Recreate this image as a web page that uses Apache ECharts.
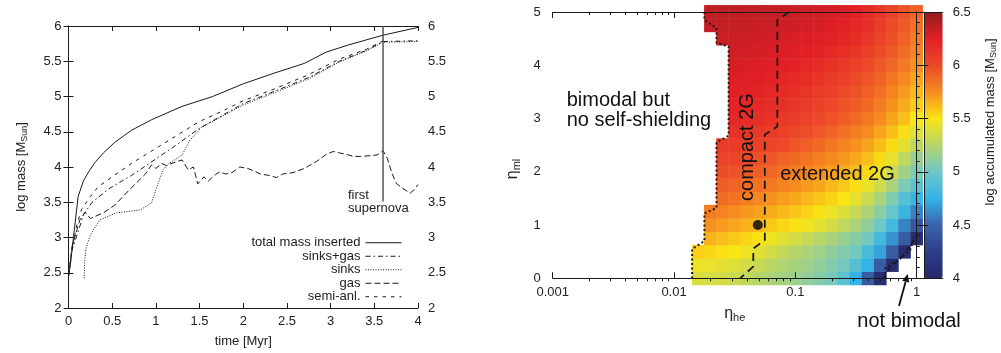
<!DOCTYPE html>
<html>
<head>
<meta charset="utf-8">
<script src="https://cdn.jsdelivr.net/npm/echarts@6/dist/echarts.min.js"></script>
<style>
html, body { margin: 0; padding: 0; background: #fff; }
#main { width: 1001px; height: 353px; }
</style>
</head>
<body>
<div id="main"></div>
<script>
// left panel: log mass vs time
var totalT = [0, 0.02, 0.11, 0.17, 0.23, 0.3, 0.4, 0.53, 0.72, 0.95, 1.3, 1.65, 2.0, 2.35, 2.7, 2.95, 3.2, 3.6, 4.0];
var totalM = [2.45, 2.6, 3.58, 3.8, 3.93, 4.06, 4.2, 4.35, 4.52, 4.67, 4.86, 5.0, 5.18, 5.33, 5.47, 5.63, 5.73, 5.87, 5.98];

var sinksGasT = [0, 0.04, 0.11, 0.17, 0.27, 0.46, 0.72, 0.84, 1.22, 1.5, 2.0, 2.35, 2.75, 3.1, 3.4, 3.6, 4.0];
var sinksGasM = [2.45, 2.82, 3.08, 3.32, 3.5, 3.69, 3.88, 3.98, 4.3, 4.55, 4.9, 5.07, 5.27, 5.5, 5.65, 5.78, 5.79];

var sinksT = [0.18, 0.185, 0.2, 0.24, 0.28, 0.36, 0.55, 0.82, 0.95, 1.02, 1.08, 1.15, 1.3, 1.39, 1.52, 2.0, 2.35, 2.75, 3.1, 3.4, 3.6, 4.0];
var sinksM = [2.42, 2.65, 2.85, 3.0, 3.1, 3.25, 3.35, 3.39, 3.49, 3.75, 3.96, 4.05, 4.17, 4.38, 4.56, 4.88, 5.05, 5.25, 5.49, 5.64, 5.77, 5.78];

var gasT = [0, 0.04, 0.13, 0.19, 0.25, 0.4, 0.53, 0.7, 0.88, 0.95, 1.0, 1.07, 1.12, 1.2, 1.3, 1.37, 1.43, 1.48, 1.55, 1.6, 1.68, 1.73, 1.8, 1.87, 1.96, 2.05, 2.11, 2.2, 2.3, 2.38, 2.45, 2.57, 2.7, 2.84, 2.95, 3.03, 3.1, 3.18, 3.26, 3.34, 3.45, 3.53, 3.6, 3.65, 3.7, 3.75, 3.82, 3.91, 3.96, 4.0];
var gasM = [2.45, 2.87, 3.25, 3.36, 3.27, 3.35, 3.46, 3.68, 3.9, 4.03, 3.98, 4.05, 4.02, 4.06, 4.1, 3.96, 4.0, 3.76, 3.86, 3.8, 3.89, 3.93, 3.9, 3.92, 4.0, 3.98, 3.95, 3.9, 3.88, 3.85, 3.9, 3.92, 3.98, 4.08, 4.18, 4.22, 4.2, 4.18, 4.15, 4.15, 4.16, 4.17, 4.23, 4.12, 3.92, 3.77, 3.7, 3.63, 3.68, 3.75];

var semiT = [0.05, 0.1, 0.15, 0.25, 0.34, 0.5, 0.72, 1.1, 1.49, 1.79, 2.0, 2.34, 2.73, 3.1, 3.41, 3.6];
var semiM = [2.9, 3.2, 3.4, 3.58, 3.72, 3.86, 4.05, 4.34, 4.64, 4.81, 4.94, 5.1, 5.3, 5.53, 5.67, 5.79];

var snT = [3.6, 3.6];
var snM = [3.51, 6];

// right panel: accumulated mass on (eta_he, eta_ml) grid
var etaHeCols = [0.0158, 0.02, 0.0251, 0.0316, 0.0398, 0.0501, 0.0631, 0.0794, 0.1, 0.126, 0.158, 0.2, 0.251, 0.316, 0.398, 0.501, 0.631, 0.794, 1];
var etaMlRows = [0, 0.25, 0.5, 0.75, 1, 1.25, 1.5, 1.75, 2, 2.25, 2.5, 2.75, 3, 3.25, 3.5, 3.75, 4, 4.25, 4.5, 4.75, 5];

var ml000 = [5.38, 5.37, 5.36, 5.33, 5.29, 5.25, 5.22, 5.19, 5.16, 5.12, 5.08, 5.03, 4.93, 4.75, 4.45, 4.05, null, null, null];
var ml025 = [5.45, 5.44, 5.42, 5.40, 5.36, 5.32, 5.27, 5.23, 5.20, 5.16, 5.12, 5.07, 5.02, 4.90, 4.75, 4.45, 4.05, null, null];
var ml050 = [5.56, 5.54, 5.52, 5.50, 5.46, 5.41, 5.36, 5.30, 5.25, 5.21, 5.17, 5.12, 5.07, 5.02, 4.85, 4.70, 4.45, 4.05, null];
var ml075 = [null, 5.64, 5.61, 5.58, 5.54, 5.51, 5.46, 5.41, 5.36, 5.31, 5.26, 5.21, 5.15, 5.09, 5.02, 4.82, 4.65, 4.45, 4.05];
var ml100 = [null, 5.74, 5.71, 5.68, 5.65, 5.62, 5.58, 5.54, 5.51, 5.47, 5.42, 5.36, 5.29, 5.21, 5.12, 5.00, 4.82, 4.60, 4.42];
var ml125 = [null, 5.81, 5.78, 5.75, 5.72, 5.69, 5.66, 5.62, 5.59, 5.55, 5.51, 5.45, 5.39, 5.31, 5.22, 5.11, 4.97, 4.78, 4.60];
var ml150 = [null, null, 5.87, 5.84, 5.81, 5.77, 5.74, 5.70, 5.67, 5.63, 5.59, 5.55, 5.50, 5.43, 5.33, 5.21, 5.07, 4.90, 4.78];
var ml175 = [null, null, 5.93, 5.91, 5.88, 5.85, 5.82, 5.78, 5.75, 5.71, 5.68, 5.63, 5.58, 5.52, 5.44, 5.34, 5.21, 5.05, 4.93];
var ml200 = [null, null, 5.99, 5.97, 5.95, 5.92, 5.89, 5.85, 5.81, 5.78, 5.74, 5.70, 5.66, 5.60, 5.54, 5.45, 5.33, 5.18, 5.05];
var ml225 = [null, null, 6.04, 6.03, 6.01, 5.98, 5.95, 5.91, 5.88, 5.84, 5.80, 5.76, 5.72, 5.67, 5.61, 5.53, 5.43, 5.29, 5.15];
var ml250 = [null, null, 6.09, 6.08, 6.07, 6.05, 6.03, 6.00, 5.96, 5.92, 5.88, 5.83, 5.78, 5.74, 5.68, 5.61, 5.53, 5.42, 5.28];
var ml275 = [null, null, null, 6.14, 6.12, 6.10, 6.08, 6.05, 6.02, 5.99, 5.95, 5.91, 5.86, 5.81, 5.75, 5.68, 5.61, 5.52, 5.40];
var ml300 = [null, null, null, 6.19, 6.17, 6.15, 6.13, 6.10, 6.07, 6.04, 6.01, 5.97, 5.93, 5.88, 5.82, 5.75, 5.68, 5.60, 5.50];
var ml325 = [null, null, null, 6.22, 6.21, 6.19, 6.17, 6.15, 6.12, 6.09, 6.05, 6.01, 5.97, 5.93, 5.88, 5.81, 5.74, 5.66, 5.57];
var ml350 = [null, null, null, 6.25, 6.24, 6.22, 6.20, 6.18, 6.15, 6.12, 6.09, 6.05, 6.00, 5.97, 5.92, 5.86, 5.78, 5.71, 5.63];
var ml375 = [null, null, null, 6.27, 6.26, 6.25, 6.23, 6.21, 6.19, 6.16, 6.13, 6.09, 6.05, 6.00, 5.96, 5.90, 5.83, 5.76, 5.68];
var ml400 = [null, null, null, 6.29, 6.28, 6.27, 6.26, 6.25, 6.23, 6.21, 6.18, 6.14, 6.10, 6.05, 6.00, 5.95, 5.89, 5.82, 5.74];
var ml425 = [null, null, null, 6.31, 6.30, 6.29, 6.28, 6.27, 6.26, 6.24, 6.22, 6.19, 6.16, 6.12, 6.06, 6.00, 5.94, 5.87, 5.78];
var ml450 = [null, null, 6.33, 6.33, 6.32, 6.31, 6.30, 6.29, 6.28, 6.27, 6.26, 6.24, 6.21, 6.17, 6.11, 6.04, 5.98, 5.91, 5.82];
var ml475 = [null, 6.35, 6.35, 6.34, 6.34, 6.33, 6.33, 6.32, 6.31, 6.30, 6.29, 6.27, 6.24, 6.20, 6.15, 6.08, 6.00, 5.94, 5.86];
var ml500 = [null, 6.36, 6.36, 6.36, 6.35, 6.35, 6.34, 6.34, 6.33, 6.32, 6.31, 6.29, 6.27, 6.23, 6.18, 6.11, 6.04, 5.97, 5.90];

// boundaries in the (eta_he, eta_ml) plane
var compactHe = [0.089, 0.071, 0.071, 0.056, 0.056, 0.045, 0.045, 0.035];
var compactMl = [5, 4.85, 2.85, 2.7, 0.72, 0.56, 0.22, 0];
var shieldHe = [0.0178, 0.0178, 0.0224, 0.0224, 0.0282, 0.0282, 0.0224, 0.0224, 0.0178, 0.0178, 0.0141, 0.0141];
var shieldMl = [5, 4.85, 4.7, 4.42, 4.35, 2.68, 2.55, 1.32, 1.22, 0.7, 0.55, 0];
var notBiDotHe = [0.553, 0.553, 0.706, 0.881, 0.964];
var notBiDotMl = [0, 0.19, 0.34, 0.53, 0.78];
var notBiDashHe = [0.53, 0.6, 0.75, 0.93];
var notBiDashMl = [0, 0.2, 0.4, 0.69];
var dotHe = [0.049];
var dotMl = [1.0];

var cbarTicks = [4, 4.5, 5, 5.5, 6, 6.5];

var FONT = '"Liberation Sans", Arial, Helvetica, sans-serif';
var INK = '#1a1a1a';

function pairs(xs, ys) {
    return xs.map(function (x, i) { return [x, ys[i]]; });
}
function logPairs(xs, ys) {
    return xs.map(function (x, i) { return [Math.log10(x), ys[i]]; });
}

var massRows = [ml000, ml025, ml050, ml075, ml100, ml125, ml150, ml175, ml200, ml225, ml250,
    ml275, ml300, ml325, ml350, ml375, ml400, ml425, ml450, ml475, ml500];
var heatData = [];
massRows.forEach(function (row, r) {
    row.forEach(function (v, c) {
        if (v != null) heatData.push([c, r, v]);
    });
});

// minor tick positions of the log axis (log10 space)
var minorLog = [];
for (var d = -3; d < 0; d++) {
    for (var k = 2; k <= 9; k++) minorLog.push(Math.log10(k) + d);
}
var logLabel = { '-3': '0.001', '-2': '0.01', '-1': '0.1', '0': '1' };

var tickLabel = { fontSize: 13, color: '#222', fontFamily: FONT };
var axLine = { show: true, lineStyle: { color: INK, width: 1 } };
var subRich = { s: { fontSize: 9, fontFamily: FONT, color: '#222', padding: [7, 0, 0, 0] } };
var subRichBig = { s: { fontSize: 11, fontFamily: FONT, color: '#222', padding: [8, 0, 0, 0] } };

function lineSeries(name, data, type) {
    return {
        name: name, type: 'line', xAxisIndex: 0, yAxisIndex: 0,
        data: data, symbol: 'none', silent: true, animation: false,
        itemStyle: { color: INK },
        lineStyle: { color: INK, width: 1, type: type }
    };
}

var option = {
    animation: false,
    backgroundColor: '#fff',
    grid: [
        { left: 68.5, top: 26, width: 349.5, height: 282 },
        { left: 552.7, top: 12, width: 364, height: 266.3 },
        { left: 692.2, top: 5.3, width: 230.5, height: 279.7 },
        { left: 924.3, top: 12.3, width: 18.4, height: 266 }
    ],
    xAxis: [
        { gridIndex: 0, type: 'value', min: 0, max: 4, interval: 0.5,
          axisLine: axLine, axisTick: { inside: true, length: 5, lineStyle: { color: INK } },
          axisLabel: Object.assign({ margin: 7 }, tickLabel), splitLine: { show: false },
          name: 'time [Myr]', nameLocation: 'middle', nameGap: 27,
          nameTextStyle: { fontSize: 13, color: '#222', fontFamily: FONT } },
        { gridIndex: 0, type: 'value', position: 'top', min: 0, max: 4, interval: 0.5,
          axisLine: axLine, axisTick: { inside: true, length: 5, lineStyle: { color: INK } },
          axisLabel: { show: false }, splitLine: { show: false } },
        { gridIndex: 1, type: 'value', min: -3, max: 0, interval: 1, z: 5,
          axisLine: axLine, axisTick: { inside: true, length: 6, lineStyle: { color: INK } },
          axisLabel: Object.assign({ margin: 8, formatter: function (v) { return logLabel[v]; } }, tickLabel),
          splitLine: { show: false },
          name: 'η{s|he}', nameLocation: 'middle', nameGap: 26,
          nameTextStyle: { fontSize: 16, color: '#222', fontFamily: FONT, rich: subRichBig } },
        { gridIndex: 1, type: 'value', min: -3, max: 0, z: 5,
          axisLine: { show: false },
          axisTick: { inside: true, length: 3, customValues: minorLog, lineStyle: { color: INK } },
          axisLabel: { show: false }, splitLine: { show: false } },
        { gridIndex: 1, type: 'value', position: 'top', min: -3, max: 0, interval: 1, z: 0,
          axisLine: { show: false },
          axisTick: { inside: true, length: 6, lineStyle: { color: INK } },
          axisLabel: { show: false }, splitLine: { show: false } },
        { gridIndex: 1, type: 'value', position: 'top', min: -3, max: 0, z: 0,
          axisLine: { show: false },
          axisTick: { inside: true, length: 3, customValues: minorLog, lineStyle: { color: INK } },
          axisLabel: { show: false }, splitLine: { show: false } },
        { gridIndex: 1, type: 'value', position: 'top', min: -3, max: 0, z: 5,
          axisLine: axLine, axisTick: { show: false },
          axisLabel: { show: false }, splitLine: { show: false } },
        { gridIndex: 2, type: 'category', data: etaHeCols, show: false },
        { gridIndex: 3, type: 'value', min: 0, max: 1, z: 6,
          axisLine: axLine, axisTick: { show: false }, axisLabel: { show: false }, splitLine: { show: false } },
        { gridIndex: 3, type: 'value', position: 'top', min: 0, max: 1, z: 6,
          axisLine: axLine, axisTick: { show: false }, axisLabel: { show: false }, splitLine: { show: false } }
    ],
    yAxis: [
        { gridIndex: 0, type: 'value', min: 2, max: 6, interval: 0.5,
          axisLine: axLine, axisTick: { inside: true, length: 5, lineStyle: { color: INK } },
          axisLabel: Object.assign({ margin: 7 }, tickLabel), splitLine: { show: false },
          name: 'log mass [M{s|Sun}]', nameLocation: 'middle', nameGap: 39,
          nameTextStyle: { fontSize: 13, color: '#222', fontFamily: FONT, rich: subRich } },
        { gridIndex: 0, type: 'value', position: 'right', min: 2, max: 6, interval: 0.5,
          axisLine: axLine, axisTick: { inside: true, length: 5, lineStyle: { color: INK } },
          axisLabel: Object.assign({ margin: 10 }, tickLabel), splitLine: { show: false } },
        { gridIndex: 1, type: 'value', min: 0, max: 5, interval: 1, z: 5,
          axisLine: axLine, axisTick: { inside: true, length: 6, lineStyle: { color: INK } },
          minorTick: { show: true, splitNumber: 5, length: 3, lineStyle: { color: INK } },
          axisLabel: Object.assign({ margin: 12 }, tickLabel), splitLine: { show: false } },
        { gridIndex: 1, type: 'value', position: 'right', min: 0, max: 5, z: 5,
          axisLine: axLine, axisTick: { show: false }, axisLabel: { show: false }, splitLine: { show: false } },
        { gridIndex: 2, type: 'category', data: etaMlRows, show: false },
        { gridIndex: 3, type: 'value', min: 4, max: 6.5, interval: 0.5, z: 6,
          axisLine: axLine, axisTick: { inside: true, length: 4, lineStyle: { color: INK } },
          axisLabel: { show: false }, splitLine: { show: false } },
        { gridIndex: 3, type: 'value', position: 'right', min: 4, max: 6.5, interval: 0.5, z: 6,
          axisLine: axLine, axisTick: { inside: true, length: 4, lineStyle: { color: INK } },
          axisLabel: Object.assign({ margin: 10, customValues: cbarTicks }, tickLabel), splitLine: { show: false } }
    ],
    legend: {
        data: ['total mass inserted', 'sinks+gas', 'sinks', 'gas', 'semi-anl.'],
        orient: 'vertical', align: 'right', right: 599, top: 236,
        padding: 0, itemGap: 0, itemWidth: 36, itemHeight: 10,
        selectedMode: false,
        itemStyle: { opacity: 0 },
        lineStyle: { width: 1, color: INK },
        textStyle: { fontSize: 13, color: '#222', fontFamily: FONT, lineHeight: 13.5 }
    },
    visualMap: {
        type: 'continuous', min: 4, max: 6.5, seriesIndex: 6, dimension: 2,
        orient: 'vertical', left: 924.3, top: 12.3, itemWidth: 18.4, itemHeight: 266,
        padding: 0, calculable: false, hoverLink: false,
        inRange: {
            color: ['#25296b', '#2d3f8a', '#3b63ab', '#33b3e6', '#6fc7c7', '#b5d56b',
                    '#fae515', '#f68c1f', '#ec4a29', '#e21f26', '#921c1f']
        }
    },
    series: [
        lineSeries('total mass inserted', pairs(totalT, totalM), 'solid'),
        lineSeries('sinks+gas', pairs(sinksGasT, sinksGasM), [5, 3, 1.5, 3]),
        lineSeries('sinks', pairs(sinksT, sinksM), [1, 1.5]),
        lineSeries('gas', pairs(gasT, gasM), [6, 3]),
        lineSeries('semi-anl.', pairs(semiT, semiM), [3.5, 5]),
        { type: 'line', xAxisIndex: 0, yAxisIndex: 0, data: pairs(snT, snM), symbol: 'none',
          silent: true, lineStyle: { color: '#555', width: 1.5 } },
        { type: 'heatmap', xAxisIndex: 7, yAxisIndex: 4, data: heatData, silent: true, z: 2,
          progressive: 0, emphasis: { disabled: true } },
        { type: 'line', xAxisIndex: 2, yAxisIndex: 2, data: logPairs(compactHe, compactMl), symbol: 'none',
          silent: true, z: 4, lineStyle: { color: INK, width: 1.8, type: [8, 5] } },
        { type: 'line', xAxisIndex: 2, yAxisIndex: 2, data: logPairs(shieldHe, shieldMl), symbol: 'none',
          silent: true, z: 4, clip: false, lineStyle: { color: INK, width: 2, type: [2, 2.5] } },
        { type: 'line', xAxisIndex: 2, yAxisIndex: 2, data: logPairs(notBiDotHe, notBiDotMl), symbol: 'none',
          silent: true, z: 4, lineStyle: { color: INK, width: 2, type: [2, 2.5] } },
        { type: 'line', xAxisIndex: 2, yAxisIndex: 2, data: logPairs(notBiDashHe, notBiDashMl), symbol: 'none',
          silent: true, z: 4, lineStyle: { color: INK, width: 1.5, type: [5, 4] } },
        { type: 'scatter', xAxisIndex: 2, yAxisIndex: 2, data: logPairs(dotHe, dotMl), symbol: 'circle',
          symbolSize: 10, silent: true, z: 5, itemStyle: { color: '#000' } }
    ],
    graphic: [
        { type: 'text', x: 348, y: 189, silent: true,
          style: { text: 'first\nsupernova', fontSize: 13, fontFamily: FONT, fill: '#222', lineHeight: 13, align: 'left', verticalAlign: 'top' } },
        { type: 'text', x: 566.7, y: 91, silent: true,
          style: { text: 'bimodal but\nno self-shielding', fontSize: 20, fontFamily: FONT, fill: '#111', lineHeight: 19.5, align: 'left', verticalAlign: 'top' } },
        { type: 'text', x: 747, y: 147, rotation: Math.PI / 2, silent: true, z: 10,
          style: { text: 'compact 2G', fontSize: 20, fontFamily: FONT, fill: '#111', align: 'center', verticalAlign: 'middle' } },
        { type: 'text', x: 837.5, y: 174, silent: true, z: 10,
          style: { text: 'extended 2G', fontSize: 20, fontFamily: FONT, fill: '#111', align: 'center', verticalAlign: 'middle' } },
        { type: 'text', x: 909, y: 321, silent: true,
          style: { text: 'not bimodal', fontSize: 20, fontFamily: FONT, fill: '#111', align: 'center', verticalAlign: 'middle' } },
        { type: 'text', x: 513, y: 169, rotation: Math.PI / 2, silent: true,
          style: { text: 'η{s|ml}', fontSize: 16, fontFamily: FONT, fill: '#222', align: 'center', verticalAlign: 'middle', rich: subRichBig } },
        { type: 'text', x: 990, y: 122, rotation: Math.PI / 2, silent: true,
          style: { text: 'log accumulated mass [M{s|Sun}]', fontSize: 13, fontFamily: FONT, fill: '#222', align: 'center', verticalAlign: 'middle', rich: subRich } },
        { type: 'polyline', silent: true, z: 10,
          shape: { points: [[899, 306], [905.6, 281.7]] },
          style: { stroke: '#111', lineWidth: 1.8, fill: null } },
        { type: 'polygon', silent: true, z: 10,
          shape: { points: [[907.7, 274], [909.2, 282.6], [902.2, 280.8]] },
          style: { fill: '#111' } }
    ]
};

var chart = echarts.init(document.getElementById('main'));
chart.setOption(option);
</script>
</body>
</html>
